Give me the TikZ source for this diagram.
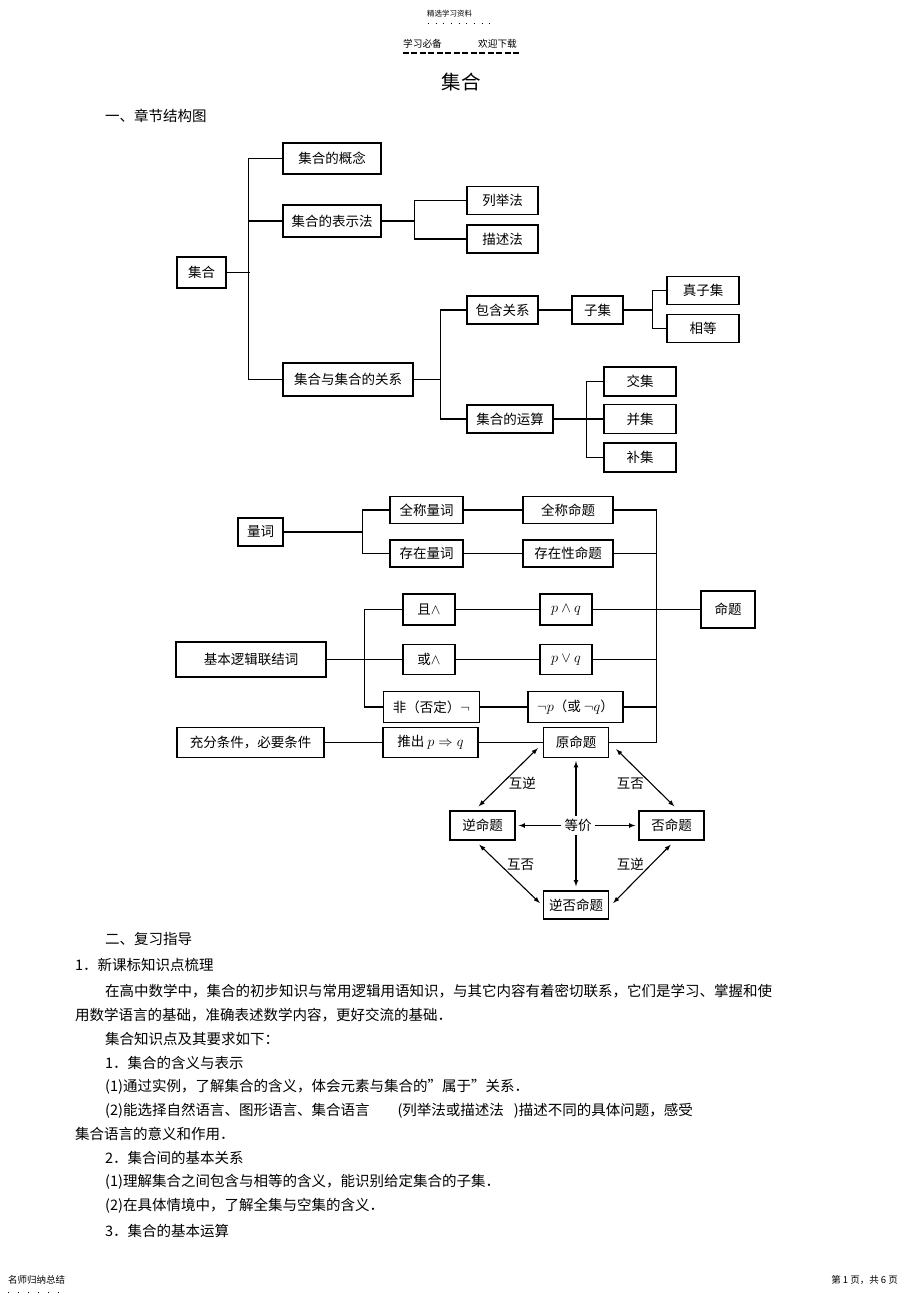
\documentclass[tikz,border=0pt]{standalone}
\usepackage{fontspec}
\setmainfont{Noto Sans CJK SC}
\usetikzlibrary{arrows, positioning, calc}

\tikzset{
  kasten/.style={draw, line width=1.4pt, inner sep=0pt, font=\fontsize{13.5}{16}\selectfont},
  zeile/.style={anchor=west, inner sep=0pt, font=\fontsize{14.5}{17}\selectfont},
  marke/.style={font=\fontsize{13.5}{16}\selectfont, inner sep=0pt},
  verb/.style={line width=1.1pt},
  pfeil/.style={line width=1.1pt, <->, >=latex},
}

\begin{document}
\begin{tikzpicture}[x=1pt, y=-1pt]
\fill[white] (0,0) rectangle (920,1303);
\useasboundingbox (0,0) rectangle (920,1303);
% Kopfzeile
\node[inner sep=0pt, font=\fontsize{7.5}{9}\selectfont] (hd) at (449.5,14) {精选学习资料};
\draw[line width=1pt, dash pattern=on 1pt off 6.7pt] ($(hd.west)+(1,10)$) -- ($(hd.east)+(18,10)$);
\node[inner sep=0pt, font=\fontsize{9.7}{11}\selectfont] (xb) at (422.5,44) {学习必备};
\node[inner sep=0pt, font=\fontsize{9.7}{11}\selectfont] (hy) at (497.5,44) {欢迎下载};
\draw[line width=1.2pt, dash pattern=on 6pt off 2.5pt] ($(xb.west)+(0,9)$) -- ($(hy.east)+(3,9)$);
\node[inner sep=0pt, font=\fontsize{19.5}{22}\selectfont] (ti) at (461,82) {集合};
\node[zeile] (s1) at (105,116) {一、章节结构图};

% Mengen
\node[kasten, minimum width=49, minimum height=31] (ji) at (201.5,272.5) {集合};
\node[kasten, minimum width=98, minimum height=31] (gn) at (332,158.5) {集合的概念};
\node[kasten, minimum width=98, minimum height=32] (bs) at (332,221) {集合的表示法};
\node[kasten, minimum width=71, minimum height=28] (lj) at (502.5,200.5) {列举法};
\node[kasten, minimum width=71, minimum height=28] (ms) at (502.5,239) {描述法};
\node[kasten, minimum width=130, minimum height=33] (gx) at (348,379.5) {集合与集合的关系};
\node[kasten, minimum width=71, minimum height=28] (bh) at (502.5,310) {包含关系};
\node[kasten, minimum width=51, minimum height=28] (zj) at (597.5,310) {子集};
\node[kasten, minimum width=72, minimum height=28] (zz) at (703,290.5) {真子集};
\node[kasten, minimum width=72, minimum height=28] (xd) at (703,328.5) {相等};
\node[kasten, minimum width=86, minimum height=28] (ys) at (510,419) {集合的运算};
\foreach \n/\y/\t in {jj/381.5/交集, bj/419/并集, bu/457.5/补集}
  \node[kasten, minimum width=72, minimum height=29] (\n) at (640,\y) {\t};

\draw[verb] (ji.east) -- ++(23,0);
\draw[verb] (gn.west) -- ++(-34,0) |- (gx.west);
\draw[verb] (bs.west) -- ++(-34,0);
\draw[verb] (bs.east) -- ++(33,0);
\draw[verb] (lj.west) -| ($(bs.east)+(33,0)$) |- (ms.west);
\draw[verb] (gx.east) -- ++(27,0);
\draw[verb] (bh.west) -| ($(gx.east)+(27,0)$) |- (ys.west);
\draw[verb] (bh) -- (zj);
\draw[verb] (zj.east) -- ++(29,0);
\draw[verb] (zz.west) -| ($(zj.east)+(29,0)$) |- (xd.west);
\draw[verb] (ys) -- (bj);
\draw[verb] (jj.west) -| ($(ys.east)+(33,0)$) |- (bu.west);

% Logik
\node[kasten, minimum width=45, minimum height=28] (lc) at (260.5,532) {量词};
\node[kasten, minimum width=73, minimum height=27] (qc) at (426.5,510) {全称量词};
\node[kasten, minimum width=73, minimum height=27] (cc) at (426.5,553.5) {存在量词};
\node[kasten, minimum width=90, minimum height=27] (qm) at (568,510) {全称命题};
\node[kasten, minimum width=90, minimum height=27] (cm) at (568,553.5) {存在性命题};
\node[kasten, minimum width=150, minimum height=35] (lz) at (251,659.5) {基本逻辑联结词};
\node[kasten, minimum width=52, minimum height=31] (qie) at (429,609.5) {且$\wedge$};
\node[kasten, minimum width=52, minimum height=30] (huo) at (429,659.5) {或$\wedge$};
\node[kasten, minimum width=96, minimum height=31] (fei) at (431.5,707) {非（否定）$\neg$};
\node[kasten, minimum width=52, minimum height=31] (pq1) at (566,609.5) {$p\wedge q$};
\node[kasten, minimum width=52, minimum height=30] (pq2) at (566,659.5) {$p\vee q$};
\node[kasten, minimum width=95, minimum height=31] (np) at (575.5,707) {$\neg p$（或 $\neg q$）};
\node[kasten, minimum width=54, minimum height=37] (mt) at (728,609.5) {命题};
\node[kasten, minimum width=147, minimum height=30] (cf) at (250.5,742.5) {充分条件，必要条件};
\node[kasten, minimum width=95, minimum height=30] (tc) at (430.5,742.5) {推出 $p\Rightarrow q$};
\node[kasten, minimum width=65, minimum height=30] (ym) at (576,742.5) {原命题};
\node[kasten, minimum width=65, minimum height=29] (nm) at (482.5,825.5) {逆命题};
\node[kasten, minimum width=65, minimum height=29] (fm) at (671.5,825.5) {否命题};
\node[kasten, minimum width=65, minimum height=28] (nfm) at (576,905) {逆否命题};
\node[marke, inner sep=3pt] (dj) at (578,825.5) {等价};
\coordinate (bus) at ($(ym.east)+(47,0)$);

\draw[verb] (lc.east) -- ++(79,0);
\draw[verb] (qc.west) -| ($(lc.east)+(79,0)$) |- (cc.west);
\draw[verb] (qc) -- (qm);
\draw[verb] (cc) -- (cm);
\draw[verb] (qm.east) -| (bus) -- (ym.east);
\draw[verb] (cm.east) -- (cm.east -| bus);
\draw[verb] (lz) -- (huo);
\draw[verb] (qie.west) -| ($(lz.east)+(38,0)$) |- (fei.west);
\draw[verb] (qie) -- (pq1);
\draw[verb] (huo) -- (pq2);
\draw[verb] (fei) -- (np);
\draw[verb] (pq1) -- (mt);
\draw[verb] (pq2.east) -- (pq2.east -| bus);
\draw[verb] (np.east) -- (np.east -| bus);
\draw[verb] (cf) -- (tc);
\draw[verb] (tc) -- (ym);

% Vierersystem
\draw[pfeil] ($(ym.south west)+(-5,-10)$) -- node[marke, xshift=14pt, yshift=-6pt] (l1) {互逆} ($(nm.north east)+(-37,-4)$);
\draw[pfeil] ($(ym.south east)+(7,-9)$) -- node[marke, xshift=-15pt, yshift=-5.5pt] (l2) {互否} ($(fm.north west)+(36,-4)$);
\draw[pfeil] ($(nm.south west)+(30,4)$) -- node[marke, xshift=11pt, yshift=9.5pt] (l3) {互否} ($(nfm.west)+(-3,-2)$);
\draw[pfeil] ($(fm.south east)+(-34,4)$) -- node[marke, xshift=-11.5pt, yshift=9.5pt] (l4) {互逆} ($(nfm.east)+(4,-2)$);
\draw[verb, ->, >=latex, shorten >=3pt] (dj.west) -- (nm.east);
\draw[verb, ->, >=latex, shorten >=3pt] (dj.east) -- (fm.west);
\draw[verb, ->, >=latex, shorten >=3pt] (dj.north -| ym.south) -- (ym.south);
\draw[verb, ->, >=latex, shorten >=4pt] (dj.south -| nfm.north) -- (nfm.north);

% Text
\foreach \x/\y/\t [count=\i] in {
  105/939/二、复习指导,
  75/965/1．新课标知识点梳理,
  105/991/在高中数学中，集合的初步知识与常用逻辑用语知识，与其它内容有着密切联系，它们是学习、掌握和使,
  75/1015/用数学语言的基础，准确表述数学内容，更好交流的基础．,
  105/1039/集合知识点及其要求如下：,
  105/1063/1．集合的含义与表示,
  105/1087/(1)通过实例，了解集合的含义，体会元素与集合的”属于”关系．,
  105/1111/{(2)能选择自然语言、图形语言、集合语言\hspace{28pt}(列举法或描述法\hspace{10pt})描述不同的具体问题，感受},
  75/1134/集合语言的意义和作用．,
  105/1158/2．集合间的基本关系,
  105/1182/(1)理解集合之间包含与相等的含义，能识别给定集合的子集．,
  105/1206/(2)在具体情境中，了解全集与空集的含义．,
  105/1231/3．集合的基本运算}
  \node[zeile] (L\i) at (\x,\y) {\t};

% Fusszeile
\node[anchor=west, inner sep=0pt, font=\fontsize{9.5}{11}\selectfont] (fl) at (8,1280) {名师归纳总结};
\draw[line width=1pt, dash pattern=on 1pt off 9pt] ($(fl.west)+(0,12)$) -- ($(fl.east)+(2,12)$);
\node[anchor=east, inner sep=0pt, font=\fontsize{9.5}{11}\selectfont] (fr) at (898,1280) {第 1 页，共 6 页};
\end{tikzpicture}
\end{document}
